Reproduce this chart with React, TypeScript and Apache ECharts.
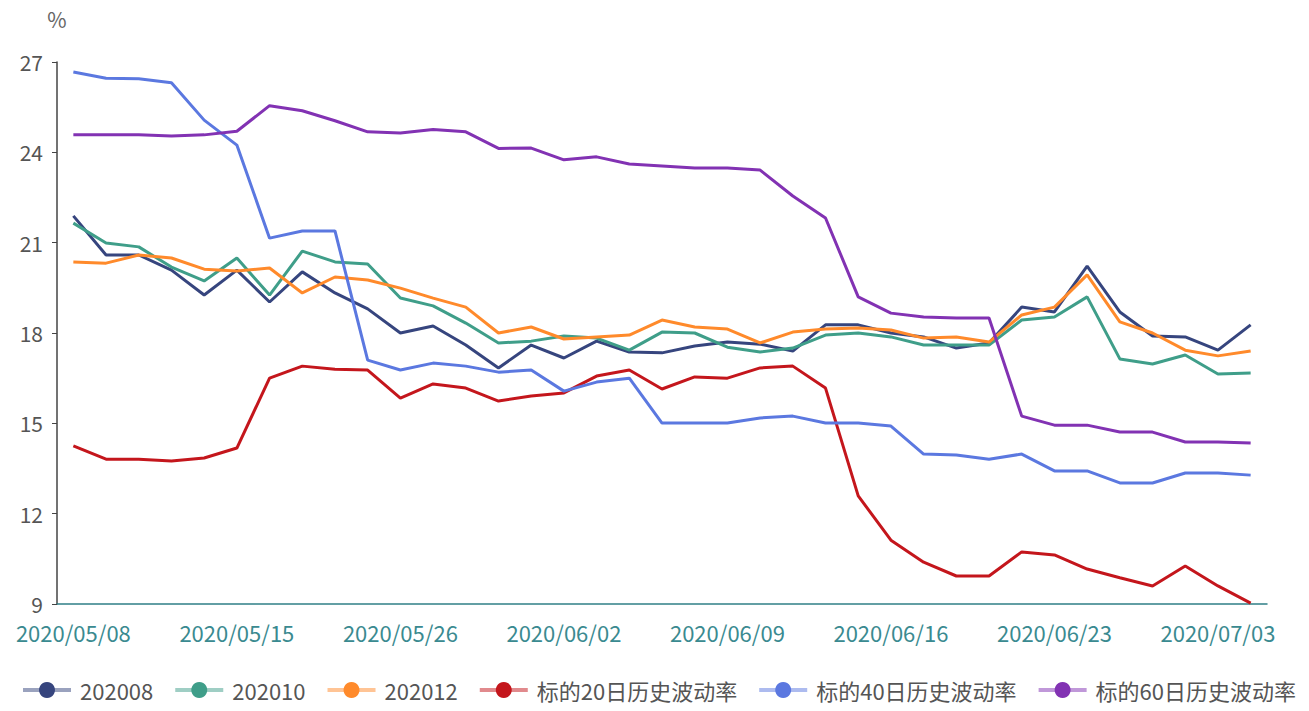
import React, { useEffect, useRef } from "react";
import * as echarts from "echarts";

const dates = [
  "2020/05/08", "2020/05/11", "2020/05/12", "2020/05/13", "2020/05/14", "2020/05/15",
  "2020/05/18", "2020/05/19", "2020/05/20", "2020/05/21", "2020/05/26",
  "2020/05/27", "2020/05/28", "2020/05/29", "2020/06/01", "2020/06/02",
  "2020/06/03", "2020/06/04", "2020/06/05", "2020/06/08", "2020/06/09",
  "2020/06/10", "2020/06/11", "2020/06/12", "2020/06/15", "2020/06/16",
  "2020/06/17", "2020/06/18", "2020/06/19", "2020/06/22", "2020/06/23",
  "2020/06/24", "2020/06/29", "2020/06/30", "2020/07/01", "2020/07/03",
  "2020/07/06",
];

const s202008 = [21.89, 20.59, 20.59, 20.09, 19.26, 20.09, 19.03, 20.03, 19.33, 18.8, 18.0, 18.23, 17.6, 16.84, 17.6, 17.17, 17.73, 17.37, 17.34, 17.57, 17.7, 17.63, 17.4, 18.27, 18.27, 18.0, 17.87, 17.5, 17.67, 18.86, 18.7, 20.22, 18.7, 17.9, 17.87, 17.43, 18.27];
const s202010 = [21.65, 20.99, 20.86, 20.19, 19.73, 20.49, 19.26, 20.72, 20.36, 20.29, 19.16, 18.9, 18.33, 17.67, 17.73, 17.9, 17.83, 17.43, 18.03, 18.0, 17.53, 17.37, 17.5, 17.93, 18.0, 17.87, 17.6, 17.6, 17.6, 18.43, 18.53, 19.2, 17.14, 16.97, 17.27, 16.64, 16.67];
const s202012 = [20.36, 20.32, 20.59, 20.49, 20.12, 20.06, 20.16, 19.33, 19.86, 19.76, 19.49, 19.16, 18.86, 18.0, 18.2, 17.8, 17.87, 17.93, 18.43, 18.2, 18.13, 17.67, 18.03, 18.13, 18.17, 18.1, 17.83, 17.87, 17.7, 18.6, 18.86, 19.93, 18.37, 18.0, 17.43, 17.24, 17.4];
const vol20 = [14.25, 13.81, 13.81, 13.75, 13.85, 14.18, 16.5, 16.9, 16.8, 16.77, 15.84, 16.31, 16.17, 15.74, 15.91, 16.01, 16.57, 16.77, 16.14, 16.54, 16.5, 16.84, 16.9, 16.17, 12.59, 11.12, 10.39, 9.93, 9.93, 10.73, 10.63, 10.16, 9.87, 9.6, 10.26, 9.6, 9.03];
const vol40 = [26.67, 26.46, 26.44, 26.31, 25.07, 24.24, 21.15, 21.39, 21.39, 17.1, 16.77, 17.0, 16.9, 16.7, 16.77, 16.07, 16.37, 16.5, 15.01, 15.01, 15.01, 15.18, 15.24, 15.01, 15.01, 14.91, 13.98, 13.95, 13.81, 13.98, 13.42, 13.42, 13.02, 13.02, 13.35, 13.35, 13.28];
const vol60 = [24.58, 24.58, 24.58, 24.54, 24.58, 24.7, 25.55, 25.38, 25.05, 24.68, 24.64, 24.76, 24.68, 24.13, 24.14, 23.75, 23.85, 23.61, 23.55, 23.48, 23.48, 23.41, 22.55, 21.82, 19.2, 18.66, 18.53, 18.5, 18.5, 15.24, 14.94, 14.94, 14.71, 14.71, 14.38, 14.38, 14.35];

const seriesNames = ["202008", "202010", "202012", "标的20日历史波动率", "标的40日历史波动率", "标的60日历史波动率"];
const seriesData = [s202008, s202010, s202012, vol20, vol40, vol60];
const colors = ["#36457e", "#3f9e89", "#ff8a2b", "#c4161c", "#5b78e0", "#8232b3"];
const yTicks = { min: 9, max: 27, interval: 3 };

const FONT = "'Noto Sans CJK SC', 'Noto Sans', sans-serif";

export default function App() {
  const ref = useRef<HTMLDivElement>(null);
  useEffect(() => {
    document.body.style.margin = "0";
    if (!ref.current) return;
    const chart = echarts.init(ref.current, undefined, { renderer: "svg" });
    chart.setOption({
      animation: false,
      color: colors,
      textStyle: { fontFamily: FONT },
      grid: { left: 57, right: 42, top: 62, bottom: 107, containLabel: false },
      legend: {
        bottom: 5,
        left: 21,
        width: 1286,
        padding: [5, 0, 5, 0],
        itemWidth: 48,
        itemHeight: 20,
        itemGap: 20,
        lineStyle: { opacity: 0.5, width: 4 },
        textStyle: { fontSize: 22, color: "#555", fontFamily: FONT, padding: [0, 0, 0, 4] },
        data: seriesNames,
      },
      xAxis: {
        type: "category",
        data: dates,
        boundaryGap: true,
        axisLine: { lineStyle: { color: "#2f7f86", width: 1.5 } },
        axisTick: {
          length: 9,
          interval: (i: number) => i % 5 === 3,
          lineStyle: { color: "#2f7f86", width: 1.5 },
        },
        axisLabel: {
          interval: (i: number) => i % 5 === 0,
          color: "#3a8a90",
          fontSize: 22,
          margin: 17,
          fontFamily: FONT,
        },
        splitLine: { show: false },
      },
      yAxis: {
        type: "value",
        min: yTicks.min,
        max: yTicks.max,
        interval: yTicks.interval,
        name: "%",
        nameGap: 34,
        nameTextStyle: { color: "#666", fontSize: 21, lineHeight: 18, fontFamily: FONT },
        axisLine: { show: true, lineStyle: { color: "#444", width: 1.5 } },
        axisTick: { show: true, length: 5, lineStyle: { color: "#444" } },
        axisLabel: { color: "#555", fontSize: 21, margin: 14, fontFamily: FONT },
        splitLine: { show: false },
      },
      series: seriesNames.map((name, k) => ({
        name,
        type: "line",
        data: seriesData[k],
        symbol: "circle",
        symbolSize: 20,
        showSymbol: false,
        lineStyle: { width: 3, color: colors[k] },
        itemStyle: { color: colors[k] },
      })),
    });
    return () => chart.dispose();
  }, []);
  return <div ref={ref} style={{ width: 1309, height: 711 }} />;
}
